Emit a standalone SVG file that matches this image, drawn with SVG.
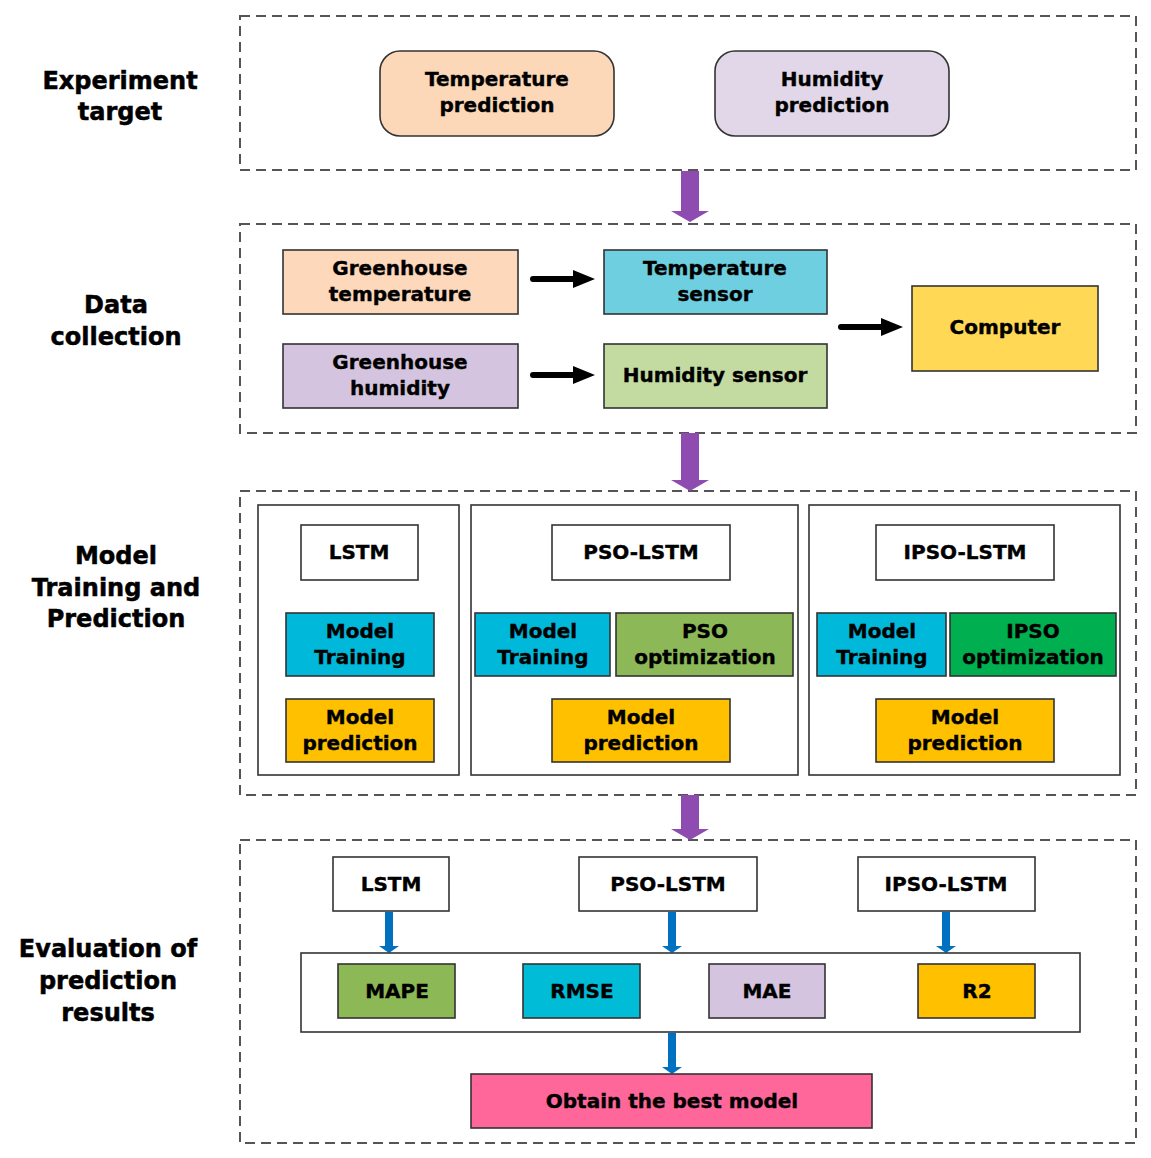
<svg xmlns="http://www.w3.org/2000/svg" width="1151" height="1158" viewBox="0 0 1151 1158">
<defs>
<style>
.panel{fill:none;stroke:#555;stroke-width:2;stroke-dasharray:10 6}
.box{stroke:#333;stroke-width:1.6}
.sub{fill:#fff;stroke:#333;stroke-width:1.6}
.t{font-family:"DejaVu Sans",sans-serif;font-weight:bold;font-size:20px;fill:#000;stroke:#000;stroke-width:0.4;text-anchor:middle}
.lbl{font-family:"DejaVu Sans",sans-serif;font-weight:bold;font-size:24px;fill:#000;stroke:#000;stroke-width:0.5;text-anchor:middle}
.purple{fill:#8E4CB1}
.black{fill:#000}
.blue{fill:#0070C0}
</style>
</defs>

<g id="labels">
<text class="lbl" x="120" y="89">Experiment</text>
<text class="lbl" x="120" y="120">target</text>
<text class="lbl" x="116" y="313">Data</text>
<text class="lbl" x="116" y="345">collection</text>
<text class="lbl" x="116" y="564">Model</text>
<text class="lbl" x="116" y="596">Training and</text>
<text class="lbl" x="116" y="627">Prediction</text>
<text class="lbl" x="108" y="957">Evaluation of</text>
<text class="lbl" x="108" y="989">prediction</text>
<text class="lbl" x="108" y="1021">results</text>
</g>

<g id="panels">
<rect class="panel" x="240" y="16" width="896" height="154"/>
<rect class="panel" x="240" y="224" width="896" height="209"/>
<rect class="panel" x="240" y="491" width="896" height="304"/>
<rect class="panel" x="240" y="840" width="896" height="303"/>
</g>

<g id="connectors">
<path class="purple" d="M681,171 V211 H671 L690,222 L709,211 H699 V171 z"/>
<path class="purple" d="M681,433 V480 H671 L690,491 L709,480 H699 V433 z"/>
<path class="purple" d="M681,795 V829 H671 L690,840 L709,829 H699 V795 z"/>
<path class="black" d="M533,276 H573 V270 L595,279 L573,288 V282 H533 A3,3 0 0 1 533,276 z"/>
<path class="black" d="M533,372 H573 V366 L595,375 L573,384 V378 H533 A3,3 0 0 1 533,372 z"/>
<path class="black" d="M841,324 H881 V318 L903,327 L881,336 V330 H841 A3,3 0 0 1 841,324 z"/>
<path class="blue" d="M385,912 V946 H379 L389,953 L399,946 H393 V912 z"/>
<path class="blue" d="M668,912 V946 H662 L672,953 L682,946 H676 V912 z"/>
<path class="blue" d="M942,912 V946 H936 L946,953 L956,946 H950 V912 z"/>
<path class="blue" d="M668,1033 V1067 H662 L672,1074 L682,1067 H676 V1033 z"/>
</g>

<g id="temp-pred"><rect class="box" x="380" y="51" width="234" height="85" rx="20" fill="#FDD8B8"/><text class="t" x="497" y="86">Temperature</text><text class="t" x="497" y="112">prediction</text></g>
<g id="hum-pred"><rect class="box" x="715" y="51" width="234" height="85" rx="20" fill="#E2D7E8"/><text class="t" x="832" y="86">Humidity</text><text class="t" x="832" y="112">prediction</text></g>

<g id="gh-temp"><rect class="box" x="283" y="250" width="235" height="64" fill="#FDD8BA"/><text class="t" x="400" y="275">Greenhouse</text><text class="t" x="400" y="301">temperature</text></g>
<g id="temp-sensor"><rect class="box" x="604" y="250" width="223" height="64" fill="#6ECFE0"/><text class="t" x="715" y="275">Temperature</text><text class="t" x="715" y="301">sensor</text></g>
<g id="gh-hum"><rect class="box" x="283" y="344" width="235" height="64" fill="#D5C4DF"/><text class="t" x="400" y="369">Greenhouse</text><text class="t" x="400" y="395">humidity</text></g>
<g id="hum-sensor"><rect class="box" x="604" y="344" width="223" height="64" fill="#C3DBA1"/><text class="t" x="715" y="382">Humidity sensor</text></g>
<g id="computer"><rect class="box" x="912" y="286" width="186" height="85" fill="#FFD955"/><text class="t" x="1005" y="334">Computer</text></g>

<g id="lstm-group">
<rect class="sub" x="258" y="505" width="201" height="270"/>
<rect class="sub" x="301" y="525" width="117" height="55"/><text class="t" x="359" y="559">LSTM</text>
<rect class="box" x="286" y="613" width="148" height="63" fill="#00B8D9"/><text class="t" x="360" y="638">Model</text><text class="t" x="360" y="664">Training</text>
<rect class="box" x="286" y="699" width="148" height="63" fill="#FFC000"/><text class="t" x="360" y="724">Model</text><text class="t" x="360" y="750">prediction</text>
</g>
<g id="pso-group">
<rect class="sub" x="471" y="505" width="327" height="270"/>
<rect class="sub" x="552" y="525" width="178" height="55"/><text class="t" x="641" y="559">PSO-LSTM</text>
<rect class="box" x="475" y="613" width="135" height="63" fill="#00B8D9"/><text class="t" x="543" y="638">Model</text><text class="t" x="543" y="664">Training</text>
<rect class="box" x="616" y="613" width="177" height="63" fill="#8DB858"/><text class="t" x="705" y="638">PSO</text><text class="t" x="705" y="664">optimization</text>
<rect class="box" x="552" y="699" width="178" height="63" fill="#FFC000"/><text class="t" x="641" y="724">Model</text><text class="t" x="641" y="750">prediction</text>
</g>
<g id="ipso-group">
<rect class="sub" x="809" y="505" width="311" height="270"/>
<rect class="sub" x="876" y="525" width="178" height="55"/><text class="t" x="965" y="559">IPSO-LSTM</text>
<rect class="box" x="817" y="613" width="129" height="63" fill="#00B8D9"/><text class="t" x="882" y="638">Model</text><text class="t" x="882" y="664">Training</text>
<rect class="box" x="950" y="613" width="166" height="63" fill="#00B050"/><text class="t" x="1033" y="638">IPSO</text><text class="t" x="1033" y="664">optimization</text>
<rect class="box" x="876" y="699" width="178" height="63" fill="#FFC000"/><text class="t" x="965" y="724">Model</text><text class="t" x="965" y="750">prediction</text>
</g>

<g id="eval-lstm"><rect class="sub" x="333" y="857" width="116" height="54"/><text class="t" x="391" y="891">LSTM</text></g>
<g id="eval-pso"><rect class="sub" x="579" y="857" width="178" height="54"/><text class="t" x="668" y="891">PSO-LSTM</text></g>
<g id="eval-ipso"><rect class="sub" x="858" y="857" width="177" height="54"/><text class="t" x="946" y="891">IPSO-LSTM</text></g>
<g id="metrics">
<rect class="sub" x="301" y="953" width="779" height="79"/>
<rect class="box" x="338" y="964" width="117" height="54" fill="#8DB856"/><text class="t" x="397" y="998">MAPE</text>
<rect class="box" x="523" y="964" width="117" height="54" fill="#00BCD6"/><text class="t" x="582" y="998">RMSE</text>
<rect class="box" x="709" y="964" width="116" height="54" fill="#D5C4DF"/><text class="t" x="767" y="998">MAE</text>
<rect class="box" x="918" y="964" width="117" height="54" fill="#FFC000"/><text class="t" x="977" y="998">R2</text>
</g>
<g id="best"><rect class="box" x="471" y="1074" width="401" height="54" fill="#FF6699"/><text class="t" x="672" y="1108">Obtain the best model</text></g>
</svg>
